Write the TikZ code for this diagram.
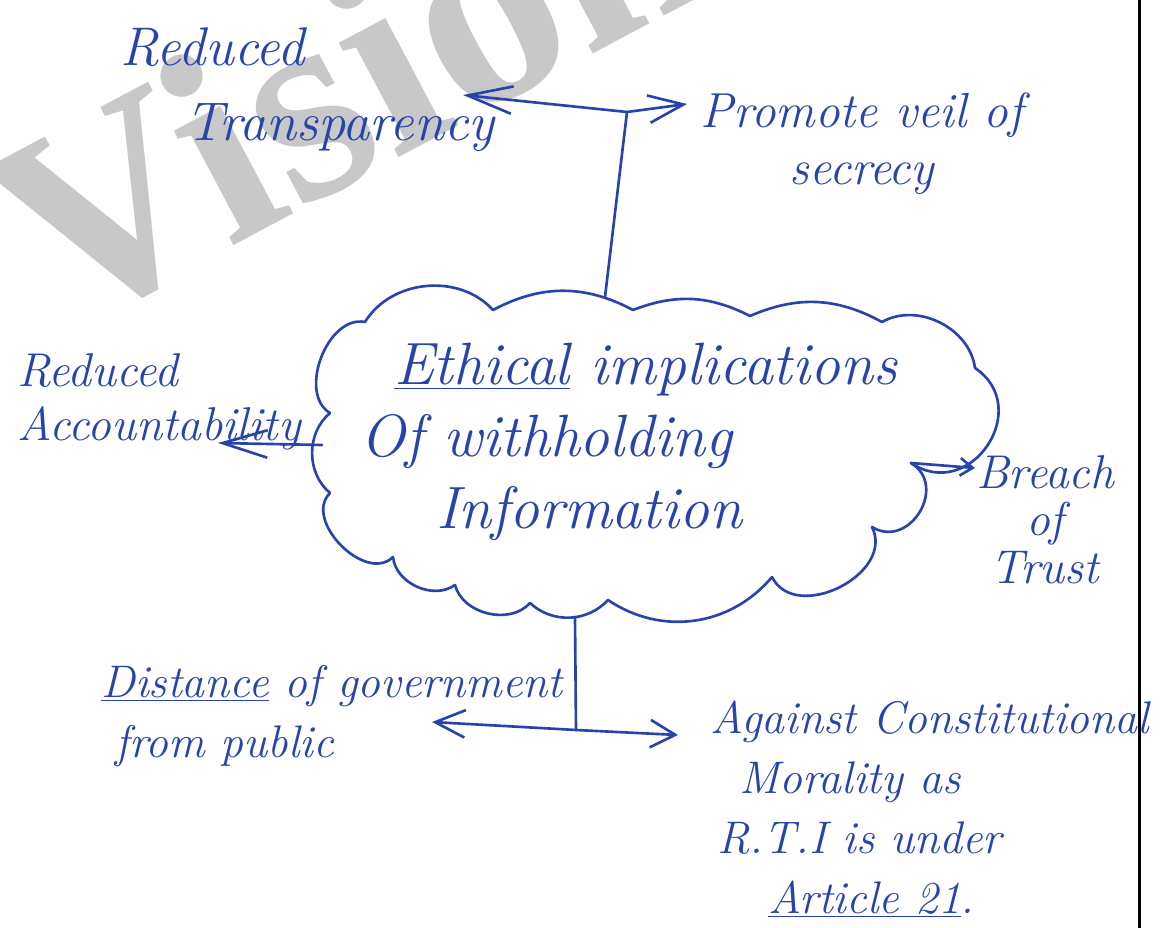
\documentclass[tikz,border=0pt]{standalone}
\usepackage{fontspec}
\newfontfamily\wmfont{Liberation Serif}
\usetikzlibrary{arrows.meta}
\definecolor{pen}{RGB}{38,68,172}
\definecolor{wmgray}{RGB}{200,200,200}

\begin{document}
\begin{tikzpicture}[x=0.02cm, y=-0.02cm,
		W/.style={line width=1.5pt, draw=pen, line cap=round, line join=round},
		A/.style={W, -{Straight Barb[length=#1, width=0.55cm]}},
		T/.style={text=pen, inner sep=0pt, align=left}
		]
		\useasboundingbox (0,0) rectangle (1174,928);
		\fill[white] (0,0) rectangle (1174,928);

		% watermark
		\begin{scope}
		\clip (0,0) rectangle (1174,928);
		\node[anchor=base west, rotate=28, inner sep=0pt, text=wmgray,
			font=\wmfont\bfseries\fontsize{160}{160}\selectfont] (wm) at (58,339) {Vision};
		\end{scope}

		% page border
		\draw[line width=1.7pt] (1139,0) -- (1139,928);

		% cloud outline
		\coordinate (n1) at (365,322);
		\coordinate (n2) at (493,310);
		\coordinate (n3) at (633,310);
		\coordinate (n4) at (750,316);
		\coordinate (n5) at (882,322);
		\coordinate (n6) at (975,368);
		\coordinate (n7) at (911,463);
		\coordinate (n8) at (872,527);
		\coordinate (n9) at (772,577);
		\coordinate (n10) at (608,600);
		\coordinate (n11) at (530,603);
		\coordinate (n12) at (455,585);
		\coordinate (n13) at (393,557);
		\coordinate (n14) at (330,493);
		\coordinate (n15) at (330,413);
		\foreach \a/\b/\k/\l in {n1/n2/53/1, n2/n3/28/1, n3/n4/24/1, n4/n5/26/1,
			n5/n6/56/1, n6/n7/90/1.6, n7/n8/90/1.5, n8/n9/90/1.2, n9/n10/42/1,
			n10/n11/45/1, n11/n12/62/1, n12/n13/60/1, n13/n14/90/1.1,
			n14/n15/50/1, n15/n1/80/1}
			\draw[W] (\a) to[bend left=\k, looseness=\l] (\b);

		\coordinate (ctop) at (605,297);
		\coordinate (cleft) at (322,445);
		\coordinate (cbot) at (575,617);

		% texts
		\node[T, anchor=north west, font=\itshape\fontsize{34}{41}\selectfont] (ethics) at (360,343)
			{\hspace*{0.68cm}\underline{Ethical} implications\\Of withholding\\\hspace*{1.52cm}Information};
		\node[T, anchor=north west, font=\itshape\fontsize{31}{43}\selectfont] (transp) at (120,27)
			{Reduced\\\hspace*{1.3cm}Transparency};
		\node[T, anchor=north, align=center, font=\itshape\fontsize{28}{32}\selectfont] (veil) at (862,93)
			{Promote veil of\\secrecy};
		\node[T, anchor=north west, font=\itshape\fontsize{27}{31}\selectfont] (account) at (17,353)
			{Reduced\\Accountability};
		\node[T, anchor=north, align=center, font=\itshape\fontsize{27}{27}\selectfont] (trust) at (1045,455)
			{Breach\\of\\Trust};
		\node[T, anchor=north west, font=\itshape\fontsize{26}{34}\selectfont] (distance) at (101,665)
			{\underline{Distance} of government\\\hspace*{0.28cm}from public};
		\node[T, anchor=north west, font=\itshape\fontsize{26}{34}\selectfont] (moral) at (710,701)
			{Against Constitutional\\\hspace*{0.58cm}Morality as\\\hspace*{0.14cm}R.T.I is under\\\hspace*{1.16cm}\underline{Article 21}.};

		% connectors
		\coordinate (jtop) at (627,112);
		\coordinate (ttip) at (463,95);
		\coordinate (vtip) at (687,104);
		\coordinate (atip) at (218,443);
		\coordinate (btip) at (975,468);
		\coordinate (jbot) at (576,730);
		\coordinate (dtip) at (432,722);
		\coordinate (mtip) at (678,735);

		\draw[W] (ctop) -- (jtop);
		\draw[A=0.9cm] (jtop) -- (ttip);
		\draw[A=0.7cm] (jtop) -- (vtip);
		\draw[A=0.9cm] (cleft) -- (atip);
		\draw[W, -{Straight Barb[length=0.25cm, width=0.35cm]}] (n7) -- (btip);
		\draw[W] (cbot) -- (jbot);
		\draw[A=0.6cm] (jbot) -- (dtip);
		\draw[A=0.5cm] (jbot) -- (mtip);
\end{tikzpicture}
\end{document}
